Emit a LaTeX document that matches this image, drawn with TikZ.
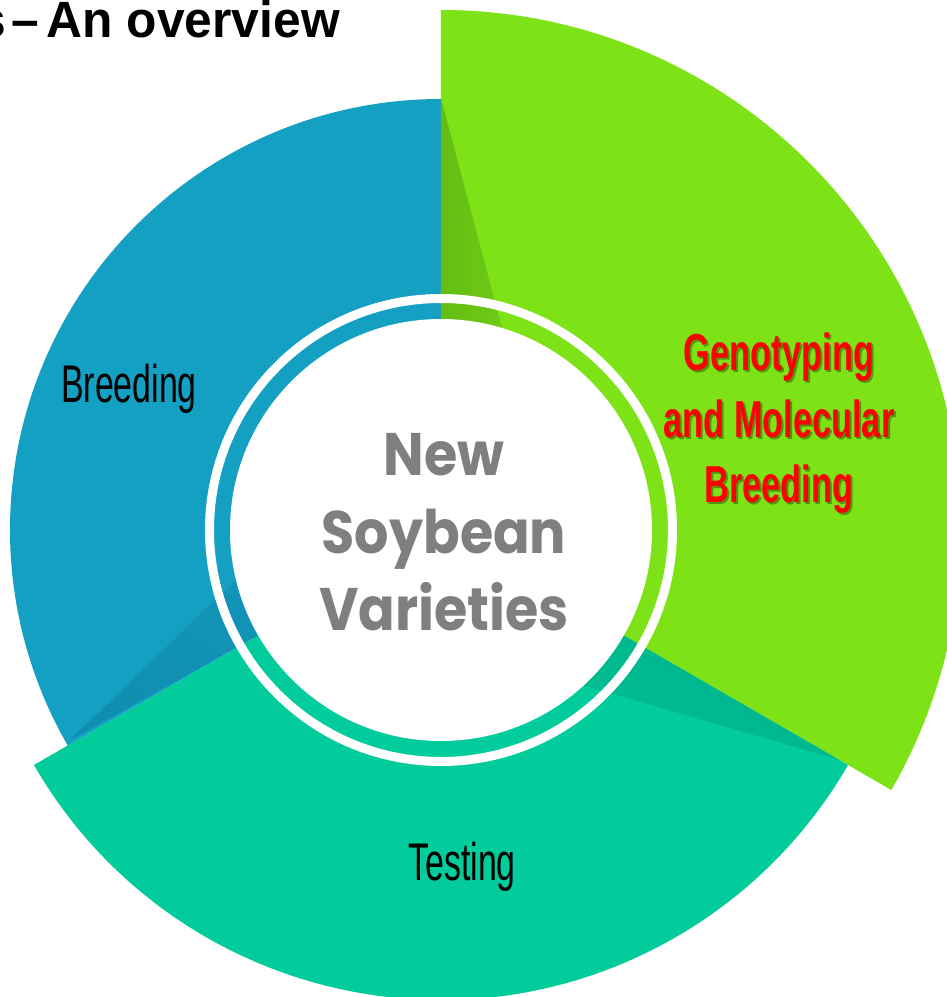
\documentclass[tikz,border=0pt]{standalone}
\usepackage{fontspec}
\setmainfont{Liberation Sans}
\newfontfamily\titlefont[FakeStretch=0.975]{Liberation Sans}
\newfontfamily\agencyfont[FakeStretch=0.64]{Liberation Sans}
\newfontfamily\agencyboldfont[FakeStretch=0.66]{Liberation Sans Bold}
\newfontfamily\centerfont[FakeStretch=0.9]{Poppins Bold}
\definecolor{segBlue}{RGB}{20,160,195}
\definecolor{segGreen}{RGB}{125,227,22}
\definecolor{segTeal}{RGB}{2,203,156}
\definecolor{shGreen}{RGB}{100,188,20}
\definecolor{shTeal}{RGB}{0,180,140}
\definecolor{shBlue}{RGB}{16,142,178}
\definecolor{textGray}{RGB}{127,127,127}
\definecolor{labelRed}{RGB}{255,0,0}
\definecolor{txtShadow}{RGB}{80,150,18}
\newcommand\shadowedtext[1]{\rlap{\hspace{2pt}\raisebox{-2pt}{\color{txtShadow}#1}}#1}
\tikzset{
  lbl/.style={inner sep=0pt, anchor=base, text=black, font=\agencyfont\fontsize{53}{53}\selectfont},
  redlbl/.style={inner sep=0pt, anchor=base, text=labelRed, font=\agencyboldfont\fontsize{52}{52}\selectfont},
  centerlbl/.style={inner sep=0pt, anchor=base, text=textGray, font=\centerfont\fontsize{60}{60}\selectfont},
}
\begin{document}
\begin{tikzpicture}[x=1pt,y=1pt]
\useasboundingbox (-441,-467) rectangle (506,530);
\clip (-441,-467) rectangle (506,530);
% sectors
\fill[segGreen] (0,0) -- (90:520) arc[start angle=90,end angle=-30,radius=520] -- cycle;
\fill[segBlue] (0,0) -- (90:431) arc[start angle=90,end angle=210,radius=431] -- cycle;
\fill[segTeal] (0,0) -- (210:470) arc[start angle=210,end angle=330,radius=470] -- cycle;
% shadow on green
\begin{scope}
  \clip (0,0) -- (90:520) arc[start angle=90,end angle=-30,radius=520] -- cycle;
  \shade[left color=shGreen, right color=segGreen!55!shGreen] (0,432) -- (88,100) -- (0,100) -- cycle;
\end{scope}
% shadow on teal
\begin{scope}
  \clip (0,0) -- (210:470) arc[start angle=210,end angle=330,radius=470] -- cycle;
  \shade[top color=shTeal, bottom color=segTeal!40!shTeal, shading angle=-30] (409,-233) -- (150,-87) -- (100,-143) -- cycle;
\end{scope}
% shadow on blue
\begin{scope}
  \clip (0,0) -- (90:431) arc[start angle=90,end angle=210,radius=431] -- cycle;
  \shade[top color=segBlue!40!shBlue, bottom color=shBlue, shading angle=-30] (-371,-210) -- (-150,-87) -- (-150,3) -- cycle;
\end{scope}
% white ring and disk
\fill[white, even odd rule] (0,0) circle[radius=236] (0,0) circle[radius=227];
\fill[white] (0,0) circle[radius=211];
% title
\node[inner sep=0pt, anchor=base east, font=\titlefont\bfseries\fontsize{51}{51}\selectfont] (title) at (-101,492) {s\hspace{5pt}–\hspace{8pt}An overview};
% labels
\node[lbl] (breeding) at (-312,128) {Breeding};
\node[lbl] (testing) at (21,-350) {Testing};
\node[redlbl] (g1) at (338,160) {\shadowedtext{Genotyping}};
\node[redlbl] (g2) at (338,93) {\shadowedtext{and Molecular}};
\node[redlbl] (g3) at (338,28) {\shadowedtext{Breeding}};
% center
\node[centerlbl] (c1) at (3,55) {New};
\node[centerlbl] (c2) at (3,-23) {Soybean};
\node[centerlbl] (c3) at (3,-100) {Varieties};
\end{tikzpicture}
\end{document}
